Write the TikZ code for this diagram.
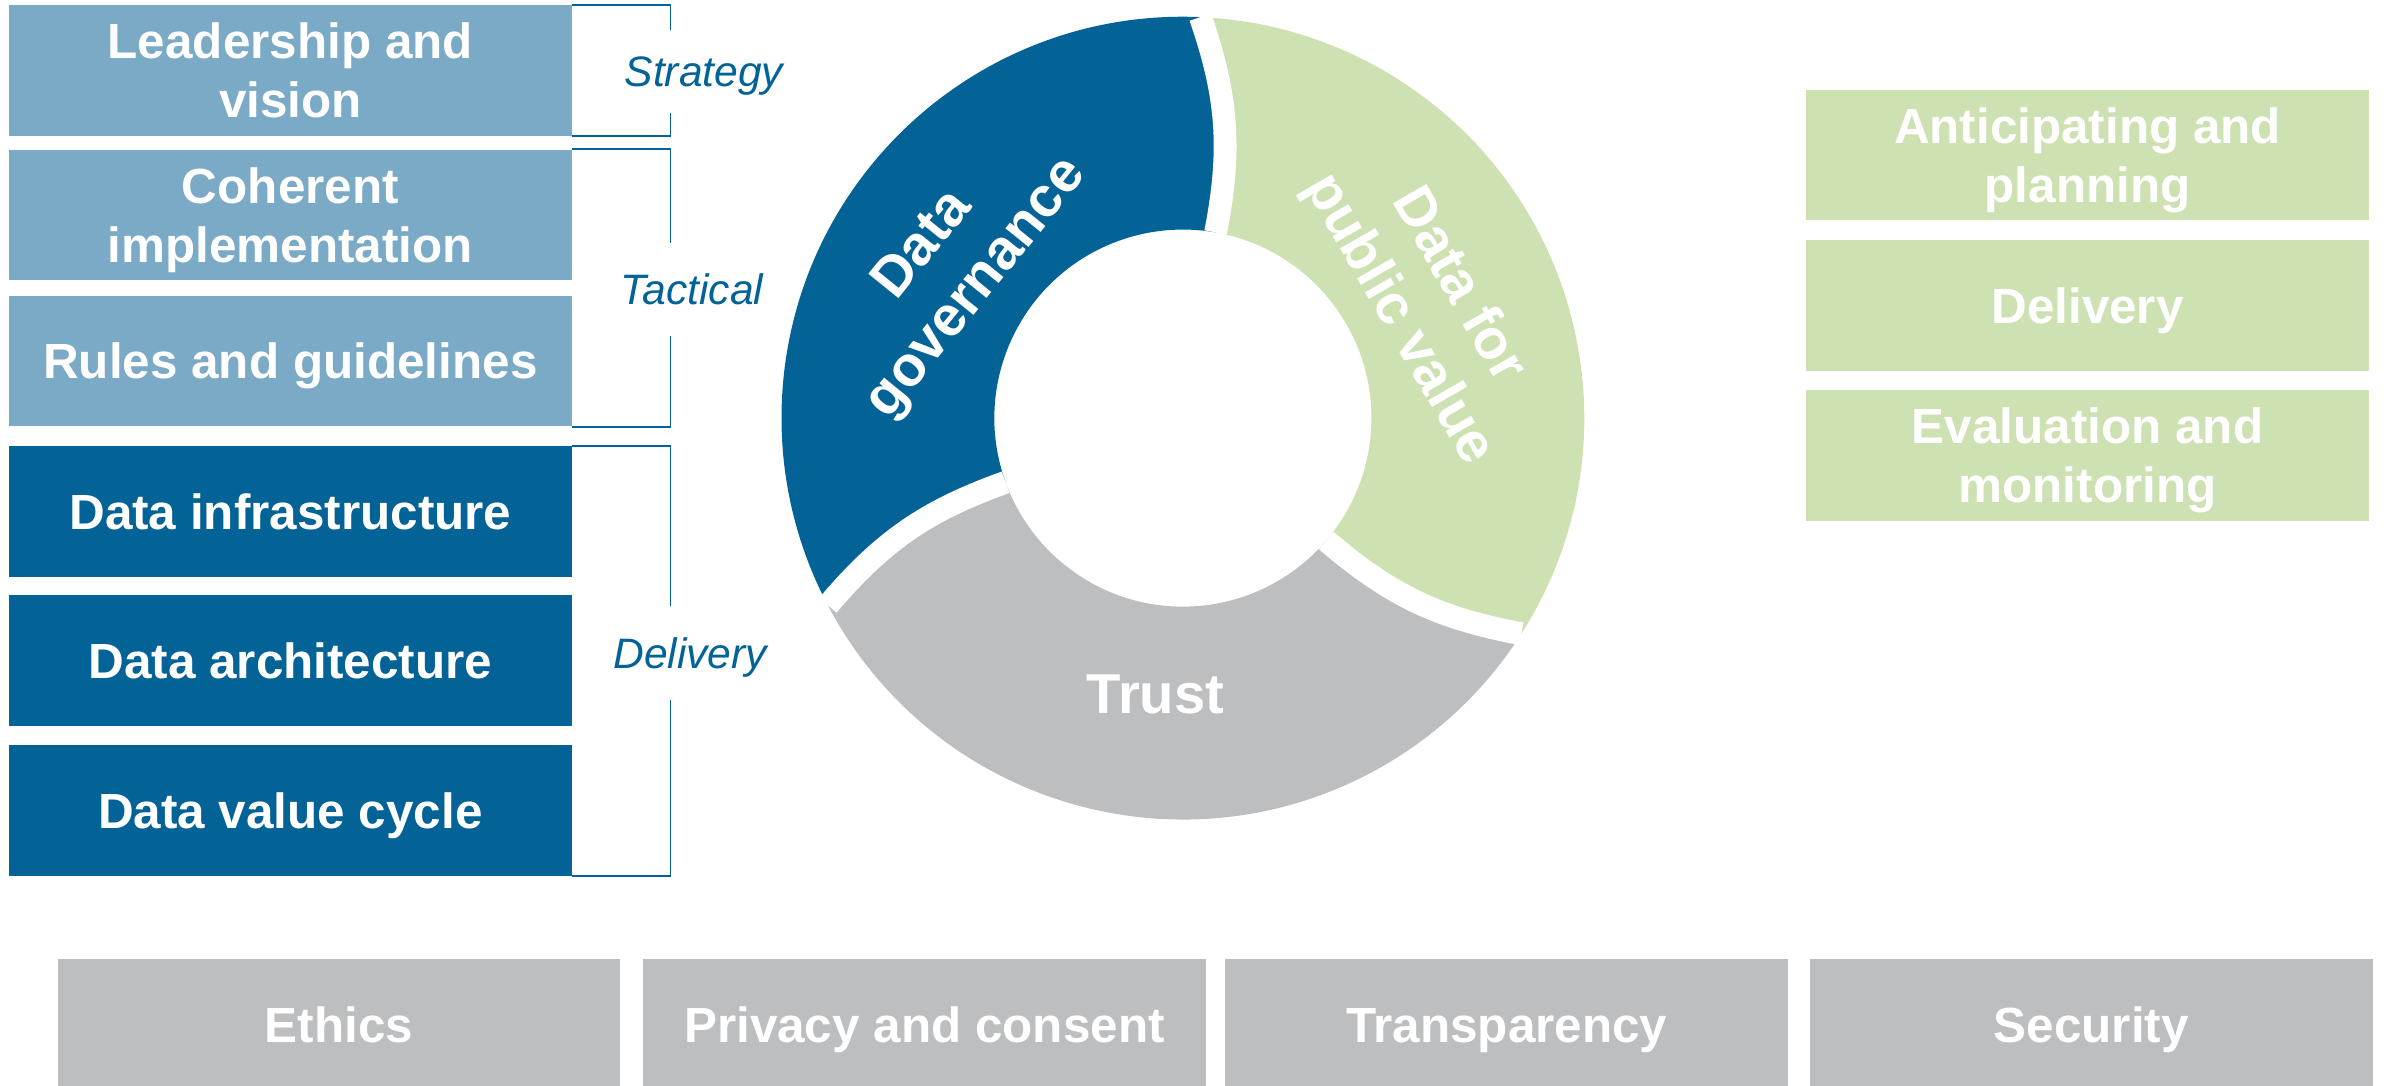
\documentclass[tikz,border=0pt]{standalone}
\usepackage{fontspec}
\setmainfont{Liberation Sans}
\usetikzlibrary{calc}

\definecolor{lblue}{HTML}{7BAAC6}
\definecolor{dblue}{HTML}{036296}
\definecolor{lgreen}{HTML}{CDE1B2}
\definecolor{lgrey}{HTML}{BDBEC0}

% struts that keep the capitals centred in a node
\newcommand\boxstrut{\rule[-7.7pt]{0pt}{38.7pt}}
\newcommand\lvlstrut{\rule[-7pt]{0pt}{34pt}}
\newcommand\twolines[2]{\boxstrut#1\\#2\boxstrut}

\tikzset{
    box/.style={minimum width=370pt, minimum height=86pt, inner sep=0pt, text=white,
        align=center, font=\fontsize{32.5}{39}\selectfont\bfseries,
        execute at begin node=\boxstrut},
    lvl/.style={text=dblue, inner sep=2pt, font=\fontsize{28}{34}\selectfont\itshape,
        execute at begin node=\lvlstrut},
    brk/.style={dblue, line width=1.2pt},
    ringlbl/.style={text=white, align=center, font=\fontsize{37}{45}\selectfont\bfseries},
    gap/.style={white, line width=15pt}
}

\begin{document}
\begin{tikzpicture}[x=1pt,y=1pt]

    \useasboundingbox (0,0) rectangle (1568,714);

    % Left column of boxes
    \node[box, fill=lblue] (lead) at (191,667.7) {\twolines{Leadership and}{vision}};
    \node[box, fill=lblue] (coh) at (191,572.6) {\twolines{Coherent}{implementation}};
    \node[box, fill=lblue] (rules) at (191,476.5) {Rules and guidelines};
    \node[box, fill=dblue] (infra) at (191,377.6) {Data infrastructure};
    \node[box, fill=dblue] (arch) at (191,279.6) {Data architecture};
    \node[box, fill=dblue] (cycle) at (191,181) {Data value cycle};

    % Level labels
    \node[lvl, minimum height=54pt] (strat) at (463,667) {Strategy};
    \node[lvl, minimum height=61pt] (tact) at (455,523.5) {Tactical};
    \node[lvl, minimum height=61pt] (deliv) at (454,284.5) {Delivery};

    % Brackets
    \coordinate (brx) at (441,0);
    \draw[brk] (lead.north east) -| (brx |- strat.north);
    \draw[brk] (lead.south east) -| (brx |- strat.south);
    \draw[brk] (coh.north east) -| (brx |- tact.north);
    \draw[brk] (rules.south east) -| (brx |- tact.south);
    \draw[brk] (infra.north east) -| (brx |- deliv.north);
    \draw[brk] (cycle.south east) -| (brx |- deliv.south);

    % Define the center and radii of the ring
    \def\Ro{264}
    \def\Ri{124}
    \coordinate (c) at (778,439);

    % Ends of the gaps between the segments
    \coordinate (g1i) at ($(c)+(80:\Ri)$);
    \coordinate (g1o) at ($(c)+(87.5:\Ro)$);
    \coordinate (g2i) at ($(c)+(199.9:\Ri)$);
    \coordinate (g2o) at ($(c)+(207.8:\Ro)$);
    \coordinate (g3i) at ($(c)+(-40.5:\Ri)$);
    \coordinate (g3o) at ($(c)+(-32.5:\Ro)$);

    % Ring segments
    \fill[dblue] (g1o) arc[start angle=87.5, end angle=207.8, radius=\Ro]
        to[bend left=15] (g2i) arc[start angle=199.9, end angle=80, radius=\Ri]
        to[bend right=15] (g1o) -- cycle;
    \fill[lgrey] (g2o) arc[start angle=207.8, end angle=327.5, radius=\Ro]
        to[bend left=15] (g3i) arc[start angle=319.5, end angle=199.9, radius=\Ri]
        to[bend right=15] (g2o) -- cycle;
    \fill[lgreen] (g3o) arc[start angle=-32.5, end angle=87.5, radius=\Ro]
        to[bend left=15] (g1i) arc[start angle=80, end angle=-40.5, radius=\Ri]
        to[bend right=15] (g3o) -- cycle;

    % White gaps
    \draw[gap] (g1i) to[bend right=15] (g1o);
    \draw[gap] (g2i) to[bend right=15] (g2o);
    \draw[gap] (g3i) to[bend right=15] (g3o);

    % Ring labels
    \node[ringlbl, rotate=51] (gov) at (625.4,538.1) {Data\\governance};
    \node[ringlbl, rotate=-60] (pub) at (939.1,514.8) {Data for\\public value};
    \node[ringlbl] (trust) at (760,257) {Trust};

    % Right column of boxes
    \node[box, fill=lgreen] (antic) at (1373,612) {\twolines{Anticipating and}{planning}};
    \node[box, fill=lgreen] (deliv2) at (1373,513) {Delivery};
    \node[box, fill=lgreen] (eval) at (1373,414.5) {\twolines{Evaluation and}{monitoring}};

    % Bottom row
    \foreach \x/\t [count=\i] in {223/Ethics, 608/Privacy and consent, 991/Transparency, 1375.5/Security} {
        \node[box, fill=lgrey] (base\i) at (\x,40) {\t};
    }

\end{tikzpicture}
\end{document}
